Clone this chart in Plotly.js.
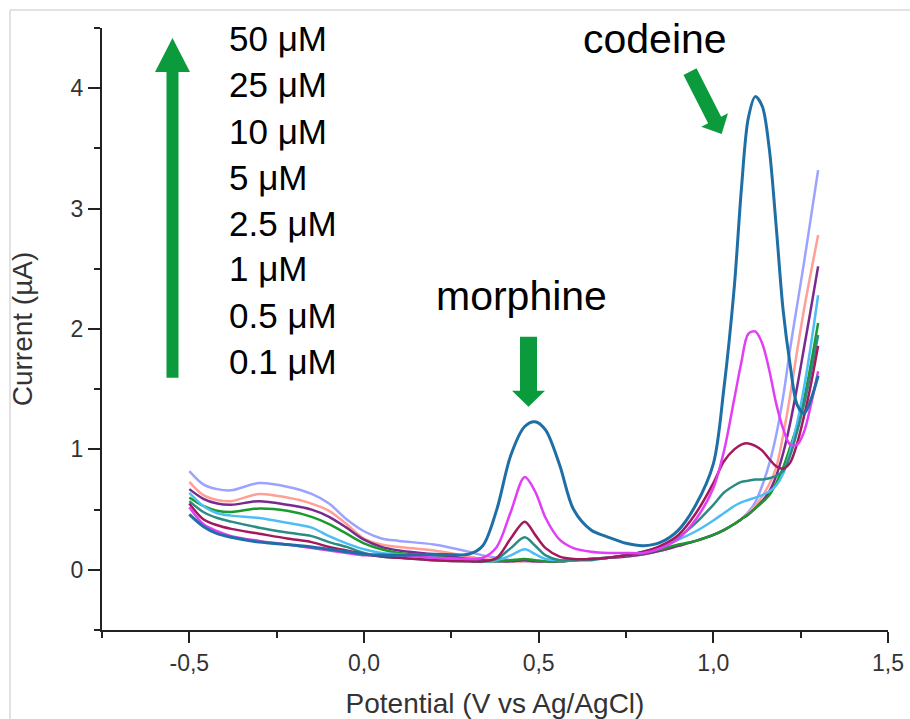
<!DOCTYPE html>
<html>
<head>
<meta charset="utf-8">
<script src="https://cdn.plot.ly/plotly-3.0.1.min.js"></script>
<style>html,body{margin:0;padding:0;background:#fff;}#chart{width:910px;height:719px;}</style>
</head>
<body>
<div id="chart"></div>
<script>
// ---- data ----
const potential = [-0.5,-0.46,-0.42,-0.38,-0.3,-0.22,-0.15,-0.1,-0.05,0,0.05,0.1,0.2,0.3,0.34,0.38,0.42,0.46,0.49,0.52,0.56,0.6,0.65,0.7,0.75,0.8,0.85,0.9,0.95,1.0,1.03,1.06,1.08,1.1,1.12,1.14,1.16,1.18,1.2,1.22,1.24,1.26,1.28,1.3];

const i_blank = [0.82,0.71,0.67,0.66,0.72,0.69,0.63,0.55,0.42,0.32,0.26,0.24,0.21,0.15,0.12,0.10,0.08,0.07,0.07,0.07,0.07,0.08,0.09,0.10,0.11,0.13,0.16,0.20,0.24,0.29,0.33,0.38,0.42,0.48,0.56,0.70,0.88,1.12,1.44,1.84,2.20,2.56,2.94,3.32];
const i_01 = [0.73,0.62,0.58,0.57,0.63,0.60,0.55,0.49,0.38,0.26,0.21,0.19,0.16,0.11,0.09,0.08,0.07,0.07,0.07,0.07,0.07,0.08,0.09,0.10,0.11,0.13,0.16,0.20,0.24,0.29,0.33,0.38,0.42,0.47,0.53,0.61,0.71,0.85,1.12,1.45,1.82,2.17,2.48,2.78];
const i_05 = [0.67,0.59,0.55,0.54,0.57,0.54,0.50,0.44,0.35,0.25,0.19,0.16,0.13,0.09,0.08,0.07,0.07,0.08,0.07,0.07,0.07,0.08,0.09,0.10,0.11,0.13,0.16,0.20,0.24,0.29,0.33,0.38,0.42,0.46,0.51,0.57,0.65,0.78,0.97,1.22,1.52,1.85,2.18,2.52];
const i_1 = [0.60,0.53,0.49,0.48,0.51,0.49,0.44,0.38,0.30,0.22,0.17,0.14,0.11,0.08,0.07,0.07,0.08,0.09,0.08,0.07,0.07,0.08,0.09,0.10,0.12,0.14,0.17,0.21,0.24,0.29,0.33,0.38,0.42,0.46,0.51,0.56,0.62,0.72,0.85,1.02,1.20,1.42,1.72,2.05];
const i_25 = [0.64,0.53,0.47,0.45,0.43,0.39,0.35,0.28,0.22,0.17,0.14,0.13,0.10,0.08,0.07,0.08,0.12,0.17,0.13,0.09,0.08,0.08,0.09,0.10,0.12,0.15,0.19,0.25,0.32,0.41,0.47,0.53,0.56,0.58,0.60,0.62,0.65,0.70,0.80,0.98,1.22,1.52,1.88,2.28];
const i_5 = [0.57,0.48,0.43,0.40,0.35,0.31,0.28,0.23,0.19,0.14,0.11,0.10,0.08,0.07,0.07,0.09,0.18,0.27,0.20,0.12,0.08,0.08,0.08,0.10,0.12,0.15,0.19,0.27,0.39,0.54,0.64,0.70,0.73,0.74,0.75,0.75,0.76,0.78,0.82,0.95,1.15,1.38,1.65,1.95];
const i_10 = [0.55,0.42,0.37,0.34,0.30,0.26,0.23,0.19,0.16,0.13,0.11,0.10,0.08,0.07,0.07,0.10,0.26,0.40,0.29,0.18,0.11,0.09,0.09,0.10,0.12,0.15,0.20,0.29,0.47,0.72,0.90,1.00,1.04,1.05,1.03,0.99,0.92,0.86,0.84,0.89,1.05,1.28,1.55,1.86];
const i_25uM = [0.52,0.38,0.32,0.28,0.24,0.21,0.18,0.16,0.14,0.12,0.13,0.12,0.10,0.09,0.10,0.19,0.48,0.77,0.65,0.43,0.25,0.18,0.15,0.14,0.14,0.14,0.18,0.26,0.42,0.68,0.98,1.42,1.72,1.96,1.98,1.88,1.66,1.38,1.17,1.04,1.04,1.15,1.38,1.65];
const i_50 = [0.46,0.36,0.30,0.27,0.23,0.21,0.19,0.17,0.15,0.13,0.12,0.12,0.13,0.13,0.20,0.50,0.95,1.19,1.23,1.16,0.87,0.50,0.33,0.27,0.22,0.20,0.23,0.33,0.54,0.88,1.50,2.35,3.15,3.75,3.93,3.85,3.50,2.85,2.15,1.70,1.37,1.30,1.42,1.61];

const seriesNames = ["blank","0.1 µM","0.5 µM","1 µM","2.5 µM","5 µM","10 µM","25 µM","50 µM"];
const seriesValues = [i_blank,i_01,i_05,i_1,i_25,i_5,i_10,i_25uM,i_50];
const seriesColors = ["#9ca2ff","#ff9f96","#7a2a8e","#1a9a2c","#4dbdf6","#2a8c84","#a3195b","#e23ef6","#1f6fa7"];

const concLabels = ["50 μM","25 μM","10 μM","5 μM","2.5 μM","1 μM","0.5 μM","0.1 μM"];
const xTickVals = [-0.5,0,0.5,1,1.5];
const xTickText = ["-0,5","0,0","0,5","1,0","1,5"];
const yTickVals = [0,1,2,3,4];
const yTickText = ["0","1","2","3","4"];

// ---- layout geometry (pixels) ----
const L = 102, R = 888, T = 28, B = 630.5;
const px = x => (x - L) / (R - L);
const py = y => (B - y) / (B - T);
const FONT = "Liberation Sans, Arial, sans-serif";
const GREEN = "#0b9b3d";

function arrowPath(tail, tip, sh, hh, hl) {
  const dx = tip[0]-tail[0], dy = tip[1]-tail[1];
  const len = Math.hypot(dx, dy);
  const ux = dx/len, uy = dy/len, nx = -uy, ny = ux;
  const bx = tip[0]-ux*hl, by = tip[1]-uy*hl;
  const pts = [
    [tail[0]+nx*sh, tail[1]+ny*sh],
    [bx+nx*sh, by+ny*sh],
    [bx+nx*hh, by+ny*hh],
    tip,
    [bx-nx*hh, by-ny*hh],
    [bx-nx*sh, by-ny*sh],
    [tail[0]-nx*sh, tail[1]-ny*sh]
  ];
  return pts.map((p,i)=>(i?'L':'M')+px(p[0]).toFixed(5)+','+py(p[1]).toFixed(5)).join(' ')+' Z';
}

const traces = seriesValues.map((v,i)=>({
  x: potential, y: v, type: 'scatter', mode: 'lines', name: seriesNames[i],
  line: {color: seriesColors[i], width: i===8 ? 3 : 2.5, shape: 'spline', smoothing: 0.9},
  showlegend: false, hoverinfo: 'skip'
}));

const concY = [39, 85, 132, 178, 224, 269, 316, 362];
const annotations = concLabels.map((t,i)=>({
  xref:'paper', yref:'paper', x: px(227), y: py(concY[i]), xanchor:'left', yanchor:'middle',
  text: t, showarrow:false, font:{family:FONT, size:35, color:'#000'}
}));
annotations.push({xref:'paper', yref:'paper', x:px(521), y:py(296), xanchor:'center', yanchor:'middle', text:'morphine', showarrow:false, font:{family:FONT, size:41, color:'#000'}});
annotations.push({xref:'paper', yref:'paper', x:px(655), y:py(39), xanchor:'center', yanchor:'middle', text:'codeine', showarrow:false, font:{family:FONT, size:41, color:'#000'}});

const shapes = [
  {type:'line', xref:'paper', yref:'paper', x0:px(10), x1:px(912), y0:py(10), y1:py(10), line:{color:'#d9d9d9', width:1.5}},
  {type:'line', xref:'paper', yref:'paper', x0:px(10), x1:px(10), y0:py(10), y1:py(722), line:{color:'#d9d9d9', width:1.5}},
  {type:'path', xref:'paper', yref:'paper', path: arrowPath([172.5,378],[172.5,38],6,17.5,34), fillcolor:GREEN, line:{width:0}},
  {type:'path', xref:'paper', yref:'paper', path: arrowPath([528.5,337],[528.5,407],8.5,16.5,16), fillcolor:GREEN, line:{width:0}},
  {type:'path', xref:'paper', yref:'paper', path: arrowPath([690,71.7],[721.7,134],7.3,15,15.6), fillcolor:GREEN, line:{width:0}}
];

const axisCommon = {
  showline:true, linecolor:'#222', linewidth:2, showgrid:false, zeroline:false,
  ticks:'outside', tickwidth:2, tickcolor:'#222', tickmode:'array',
  tickfont:{family:FONT, size:23, color:'#333'}
};

const layout = {
  width:910, height:719,
  margin:{l:L, r:910-R, t:T, b:719-B},
  paper_bgcolor:'#fff', plot_bgcolor:'#fff',
  showlegend:false,
  xaxis: Object.assign({}, axisCommon, {
    range:[-0.75,1.5], tickvals:xTickVals, ticktext:xTickText, ticklen:11,
    minor:{tickmode:'linear', tick0:0, dtick:0.25, ticks:'outside', ticklen:6, tickwidth:2, tickcolor:'#222'},
    title:{text:'Potential (V vs Ag/AgCl)', font:{family:FONT, size:28, color:'#333'}, standoff:20}
  }),
  yaxis: Object.assign({}, axisCommon, {
    range:[-0.5,4.5], tickvals:yTickVals, ticktext:yTickText, ticklen:12,
    minor:{tickmode:'linear', tick0:0, dtick:0.5, ticks:'outside', ticklen:6, tickwidth:2, tickcolor:'#222'},
    title:{text:'Current (µA)', font:{family:FONT, size:28, color:'#333'}, standoff:30}
  }),
  annotations: annotations,
  shapes: shapes
};

Plotly.newPlot('chart', traces, layout, {staticPlot:true, displayModeBar:false});
</script>
</body>
</html>
